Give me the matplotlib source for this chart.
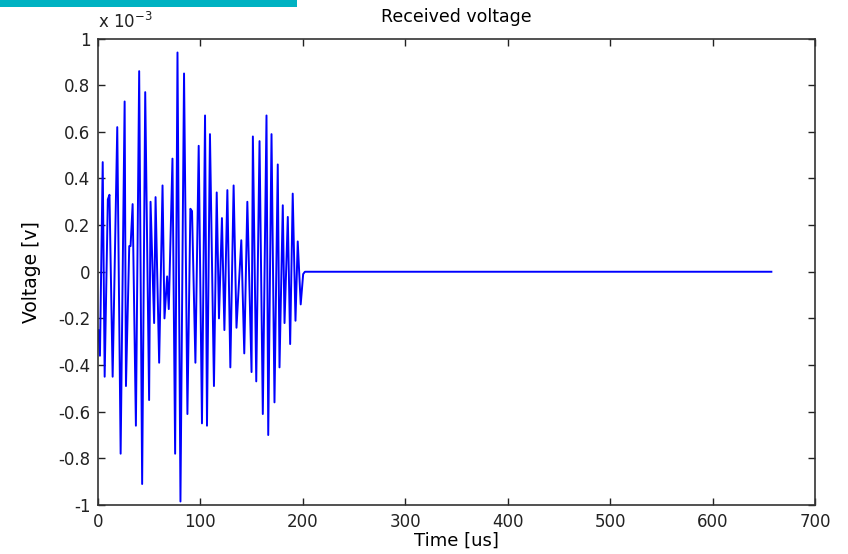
import numpy as np
import matplotlib.pyplot as plt
from matplotlib.patches import Rectangle

plt.rcParams['font.family'] = ['DejaVu Sans']
plt.rcParams['axes.unicode_minus'] = False
plt.rcParams['mathtext.default'] = 'regular'

# turning points of the received signal, time in us, voltage in units of 1e-3 V
t_us = [0.3, 1.9, 4.6, 6.5, 9.6, 11.2, 14.3, 18.8, 22.1, 26.0,
        27.3, 30.5, 31.8, 33.8, 37.0, 40.2, 43.1, 46.1, 49.9, 51.3,
        54.8, 56.2, 59.7, 63.0, 64.9, 67.5, 69.1, 72.7, 75.3, 77.6,
        80.5, 84.0, 87.3, 90.2, 91.8, 95.1, 98.3, 101.5, 104.5, 106.4,
        109.3, 113.2, 115.9, 118.1, 121.0, 123.4, 126.3, 129.2, 132.4, 135.2,
        139.9, 142.8, 145.8, 149.9, 151.2, 154.5, 157.7, 160.9, 164.5, 166.2,
        169.4, 172.3, 175.5, 177.2, 180.4, 182.1, 185.3, 187.6, 190.1, 192.8,
        195.0, 197.9, 200.3, 202.0, 657.4]
v_mv = [-0.25, -0.36, 0.47, -0.45, 0.31, 0.33, -0.45, 0.62, -0.78, 0.73,
        -0.49, 0.11, 0.11, 0.29, -0.66, 0.86, -0.91, 0.77, -0.55, 0.30,
        -0.22, 0.32, -0.39, 0.37, -0.20, -0.02, -0.16, 0.485, -0.78, 0.94,
        -0.985, 0.85, -0.61, 0.27, 0.26, -0.39, 0.54, -0.65, 0.67, -0.66,
        0.59, -0.49, 0.34, -0.20, 0.23, -0.25, 0.35, -0.41, 0.37, -0.24,
        0.135, -0.35, 0.30, -0.43, 0.58, -0.47, 0.56, -0.61, 0.67, -0.70,
        0.59, -0.56, 0.46, -0.41, 0.285, -0.22, 0.235, -0.31, 0.335, -0.21,
        0.13, -0.14, -0.01, 0.0, 0.0]

xticks = [0, 100, 200, 300, 400, 500, 600, 700]
yticks = [-1, -0.8, -0.6, -0.4, -0.2, 0, 0.2, 0.4, 0.6, 0.8, 1]
ytick_labels = ['-1', '-0.8', '-0.6', '-0.4', '-0.2', '0', '0.2', '0.4', '0.6', '0.8', '1']

W, H = 848, 554
fig = plt.figure(figsize=(W/100, H/100), dpi=100)
ax = fig.add_axes([98/W, 1-505/H, (815-98)/W, (505-38.5)/H])

ax.plot(t_us, v_mv, color='#0000FF', lw=1.4)

ax.set_xlim(0, 700)
ax.set_ylim(-1, 1)
ax.set_xticks(xticks)
ax.set_xticklabels([str(x) for x in xticks])
ax.set_yticks(yticks)
ax.set_yticklabels(ytick_labels)
ax.tick_params(direction='in', length=5, width=1, top=True, right=True,
               labelsize=12, colors='#222222', pad=5.5)
for s in ax.spines.values():
    s.set_linewidth(1.2)
    s.set_color('#333333')

ax.set_title('Received voltage', fontsize=12.5, pad=12)
ax.set_xlabel('Time [us]', fontsize=13, labelpad=1)
ax.set_ylabel('Voltage [v]', fontsize=13.5, labelpad=12)

# exponent of the y axis, MATLAB style
fig.text(98/W, 1-28/H, 'x 10$^{-3}$', fontsize=12, va='baseline', ha='left', color='#222222')

# teal strip at the top left of the slide
fig.patches.append(Rectangle((0, 1-7/H), 297/W, 7/H, transform=fig.transFigure,
                             facecolor='#00B2C2', edgecolor='none'))

plt.savefig('out.png', dpi=100)
